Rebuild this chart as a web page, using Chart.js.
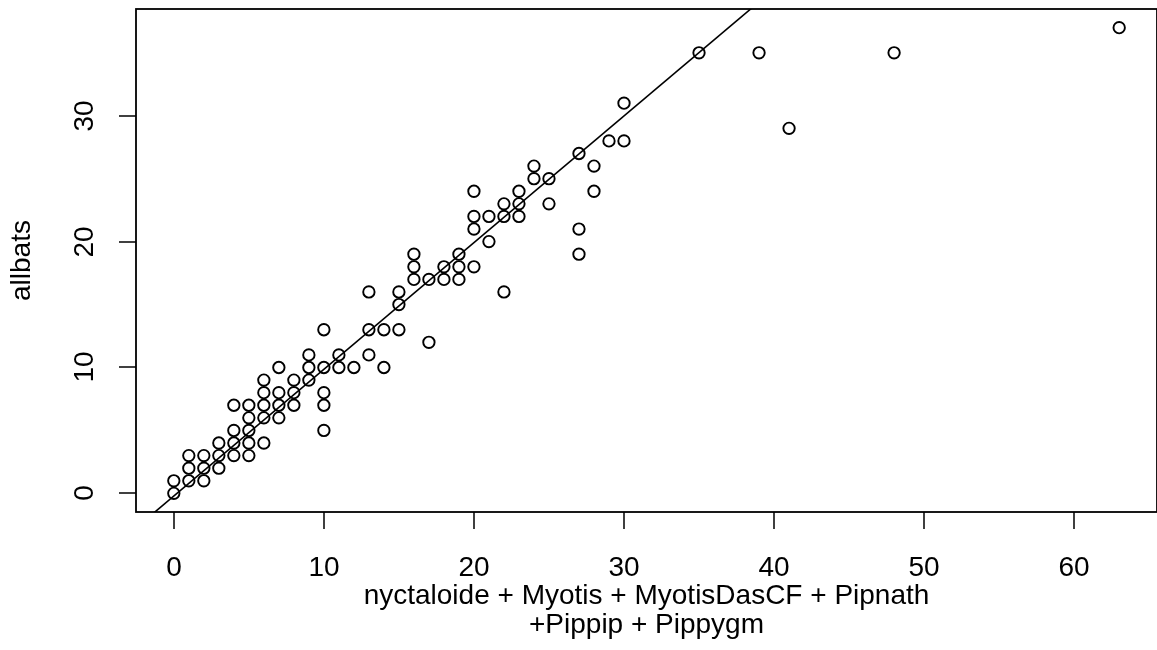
<!DOCTYPE html>
<html>
<head>
<meta charset="utf-8">
<title>allbats</title>
<script src="https://cdn.jsdelivr.net/npm/chart.js@4.4.1/dist/chart.umd.min.js"></script>
<style>
    html, body { margin: 0; padding: 0; background: #fff; overflow: hidden; }
    #wrap { width: 1157px; height: 650px; }
</style>
</head>
<body>
<div id="wrap"><canvas id="batChart" width="1157" height="650"></canvas></div>
<script>
// counts per night
const sumCounts = [
    0, 0,
    1, 1, 1,
    2, 2, 2,
    3, 3, 3,
    4, 4, 4, 4,
    5, 5, 5, 5, 5,
    6, 6, 6, 6, 6,
    7, 7, 7, 7,
    8, 8, 8,
    9, 9, 9,
    10, 10, 10, 10, 10,
    11, 11,
    12,
    13, 13, 13,
    14, 14,
    15, 15, 15,
    16, 16, 16,
    17, 17,
    18, 18,
    19, 19, 19,
    20, 20, 20, 20,
    21, 21,
    22, 22, 22,
    23, 23, 23,
    24, 24,
    25, 25,
    27, 27, 27,
    28, 28,
    29,
    30, 30,
    35, 39, 41, 48, 63
];
const allBats = [
    0, 1,
    1, 2, 3,
    1, 2, 3,
    2, 3, 4,
    3, 4, 5, 7,
    3, 4, 5, 6, 7,
    4, 6, 7, 8, 9,
    6, 7, 8, 10,
    7, 8, 9,
    9, 10, 11,
    5, 7, 8, 10, 13,
    10, 11,
    10,
    11, 13, 16,
    10, 13,
    13, 15, 16,
    17, 18, 19,
    12, 17,
    17, 18,
    17, 18, 19,
    18, 21, 22, 24,
    20, 22,
    16, 22, 23,
    22, 23, 24,
    25, 26,
    23, 25,
    19, 21, 27,
    24, 26,
    28,
    28, 31,
    35, 35, 29, 35, 37
];

// fitted line (abline)
const fitIntercept = -0.21;
const fitSlope = 1.0065;

const xTicks = [0, 10, 20, 30, 40, 50, 60];
const yTicks = [0, 10, 20, 30];
const xRange = [-2.52, 65.52];
const yRange = [-1.48, 38.48];

const xTitle = ['nyctaloide + Myotis + MyotisDasCF + Pipnath', '+Pippip + Pippygm'];
const yTitle = 'allbats';

const FONT = '28px "Liberation Sans", Arial, sans-serif';

const points = sumCounts.map((x, i) => ({ x: x, y: allBats[i] }));
const fitLine = xRange.map(x => ({ x: x, y: fitIntercept + fitSlope * x }));

// R style frame, ticks and labels
const rAxes = {
    id: 'rAxes',
    afterDraw(chart) {
        const ctx = chart.ctx;
        const a = chart.chartArea;
        const xs = chart.scales.x;
        const ys = chart.scales.y;
        ctx.save();
        ctx.strokeStyle = '#000';
        ctx.fillStyle = '#000';
        ctx.lineWidth = 1.8;
        ctx.strokeRect(a.left, a.top, a.right - a.left, a.bottom - a.top);

        ctx.lineWidth = 1.5;
        ctx.font = FONT;
        ctx.textAlign = 'center';
        ctx.textBaseline = 'alphabetic';
        xTicks.forEach(v => {
            const px = Math.round(xs.getPixelForValue(v));
            ctx.beginPath();
            ctx.moveTo(px, a.bottom);
            ctx.lineTo(px, a.bottom + 17);
            ctx.stroke();
            ctx.fillText(String(v), px, 576);
        });
        const mid = (a.left + a.right) / 2;
        ctx.fillText(xTitle[0], mid, 604);
        ctx.fillText(xTitle[1], mid, 633);

        yTicks.forEach(v => {
            const py = Math.round(ys.getPixelForValue(v));
            ctx.beginPath();
            ctx.moveTo(a.left, py);
            ctx.lineTo(a.left - 17, py);
            ctx.stroke();
            ctx.save();
            ctx.translate(93, py);
            ctx.rotate(-Math.PI / 2);
            ctx.fillText(String(v), 0, 0);
            ctx.restore();
        });
        ctx.save();
        ctx.translate(30, (a.top + a.bottom) / 2);
        ctx.rotate(-Math.PI / 2);
        ctx.fillText(yTitle, 0, 0);
        ctx.restore();
        ctx.restore();
    }
};

new Chart(document.getElementById('batChart'), {
    type: 'scatter',
    data: {
        datasets: [{
            type: 'line',
            data: fitLine,
            borderColor: '#000',
            borderWidth: 1.6,
            pointRadius: 0,
            fill: false
        }, {
            data: points,
            pointStyle: 'circle',
            pointRadius: 5.7,
            pointBorderWidth: 1.9,
            pointBorderColor: '#000',
            pointBackgroundColor: 'rgba(0,0,0,0)',
            pointHoverRadius: 5.7
        }]
    },
    options: {
        responsive: false,
        animation: false,
        events: [],
        // right edge of the plot box sits just past the window, as in the source
        layout: { autoPadding: false, padding: { left: 136, top: 9, right: -1, bottom: 138 } },
        plugins: { legend: { display: false }, tooltip: { enabled: false } },
        scales: {
            x: { type: 'linear', min: xRange[0], max: xRange[1], display: false },
            y: { type: 'linear', min: yRange[0], max: yRange[1], display: false }
        }
    },
    plugins: [rAxes]
});
</script>
</body>
</html>
